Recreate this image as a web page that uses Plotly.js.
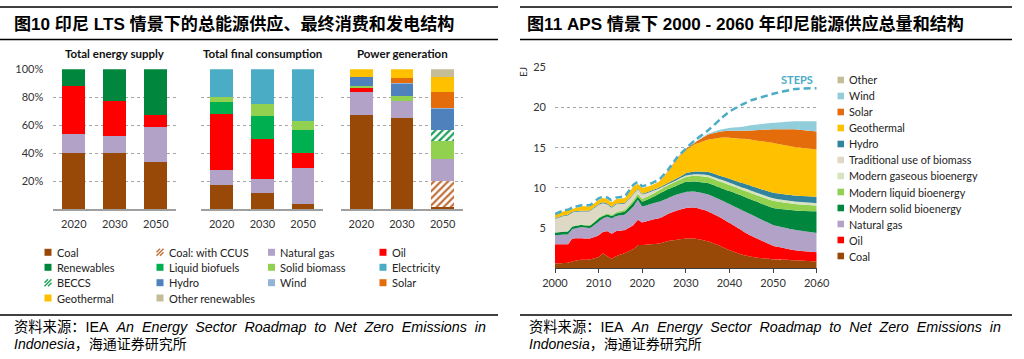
<!DOCTYPE html>
<html><head><meta charset="utf-8">
<script src="https://cdn.plot.ly/plotly-3.0.1.min.js"></script>
<style>html,body{margin:0;padding:0;background:#fff;}#chart{width:1024px;height:359px;}</style>
</head><body><div id="chart"></div>
<script>
// ---------------- DATA: left chart (shares, %) ----------------
const barYears = ['2020', '2030', '2050'];
// Total energy supply
const tesCoal = [40, 40, 33.3];
const tesGas = [13.8, 12, 25.5];
const tesOil = [34.5, 25.4, 8.2];
const tesRenew = [11.7, 22.6, 33];
// Total final consumption
const tfcCoal = [17.1, 11.2, 3.3];
const tfcGas = [10.8, 10.5, 26.2];
const tfcOil = [40, 28.3, 10.3];
const tfcLiquid = [8.5, 16.4, 17.1];
const tfcSolid = [3.8, 8.6, 6];
const tfcElec = [19.8, 25, 37.1];
// Power generation
const pgCoal = [67, 64.8, 1.7];
const pgCoalCcus = [0, 0, 18.5];
const pgGas = [16.4, 12.8, 15.3];
const pgOil = [3.1, 0, 0];
const pgSolid = [1.3, 3.3, 13.3];
const pgBeccs = [0, 0, 8.1];
const pgHydro = [6.4, 8.6, 15];
const pgWind = [0.3, 0.5, 0.7];
const pgSolar = [0, 3.6, 11.4];
const pgGeo = [5.5, 6.4, 10.3];
const pgOther = [0, 0, 5.7];
const panelTitles = ['Total energy supply', 'Total final consumption', 'Power generation'];
const shareTicks = [20, 40, 60, 80, 100];
const shareTickText = ['20%', '40%', '60%', '80%', '100%'];
const leftLegend = ['Coal', 'Coal: with CCUS', 'Natural gas', 'Oil', 'Renewables', 'Liquid biofuels',
  'Solid biomass', 'Electricity', 'BECCS', 'Hydro', 'Wind', 'Solar', 'Geothermal', 'Other renewables'];

// ---------------- DATA: right chart (EJ) ----------------
const apsYears = [2000, 2002, 2003, 2004, 2006, 2008, 2010, 2011, 2012, 2013, 2014, 2016, 2018, 2019, 2020,
  2022, 2024, 2026, 2028, 2030, 2032, 2035, 2038, 2040, 2043, 2045, 2050, 2055, 2060];
const apsCoal = [0.6, 0.65, 0.7, 0.85, 1.05, 1.1, 1.4, 1.85, 1.5, 1.2, 1.5, 1.9, 2.4, 2.9, 2.9,
  3.0, 3.1, 3.4, 3.55, 3.7, 3.7, 3.35, 2.75, 2.25, 1.7, 1.45, 1.1, 1.0, 0.85];
const apsOil = [2.4, 2.35, 2.3, 2.85, 2.7, 2.6, 2.7, 2.65, 3.1, 3.1, 3.1, 2.85, 3.0, 3.1, 2.8,
  3.0, 3.15, 3.4, 3.65, 3.8, 3.85, 3.75, 3.55, 3.4, 2.95, 2.6, 1.7, 1.25, 1.15];
const apsGas = [1.1, 1.2, 1.25, 1.2, 1.35, 1.3, 1.7, 1.7, 1.8, 1.9, 1.9, 1.95, 2.3, 2.5, 2.0,
  2.0, 2.05, 1.95, 2.0, 2.0, 2.0, 2.1, 2.2, 2.35, 2.55, 2.65, 2.6, 2.55, 2.4];
const apsSolidBio = [0.35, 0.35, 0.35, 0.3, 0.3, 0.3, 0.4, 0.3, 0.3, 0.3, 0.3, 0.35, 0.5, 0.4, 0.6,
  0.75, 1.0, 1.1, 1.1, 1.25, 1.25, 1.4, 1.5, 1.6, 1.8, 1.85, 2.1, 2.4, 2.7];
const apsLiquidBio = [0, 0, 0, 0.02, 0.05, 0.08, 0.1, 0.12, 0.15, 0.15, 0.18, 0.22, 0.3, 0.35, 0.35,
  0.4, 0.45, 0.5, 0.55, 0.6, 0.7, 0.75, 0.75, 0.75, 0.75, 0.8, 0.9, 0.8, 0.7];
const apsGasBio = [0, 0, 0, 0, 0, 0, 0, 0, 0, 0, 0, 0, 0, 0, 0.02,
  0.03, 0.05, 0.08, 0.12, 0.18, 0.2, 0.25, 0.28, 0.3, 0.3, 0.3, 0.3, 0.3, 0.3];
const apsTradBio = [1.7, 1.95, 2.0, 1.73, 1.6, 1.72, 1.6, 1.48, 1.1, 0.9, 0.97, 0.78, 0.7, 0.55, 0.53,
  0.35, 0.15, 0.05, 0.02, 0, 0, 0, 0, 0, 0, 0, 0, 0, 0];
const apsHydro = [0.1, 0.1, 0.1, 0.1, 0.1, 0.1, 0.1, 0.1, 0.1, 0.1, 0.1, 0.1, 0.1, 0.1, 0.1,
  0.12, 0.13, 0.15, 0.2, 0.3, 0.35, 0.4, 0.45, 0.5, 0.55, 0.6, 0.7, 0.75, 0.8];
const apsGeo = [0.4, 0.5, 0.5, 0.35, 0.55, 0.5, 0.5, 0.55, 0.55, 0.55, 0.55, 0.6, 0.9, 0.6, 0.7,
  0.65, 0.72, 1.47, 2.41, 2.87, 3.35, 4.0, 4.77, 5.1, 5.5, 5.75, 6.2, 6.05, 5.9];
const apsSolar = [0, 0, 0, 0, 0, 0, 0, 0, 0, 0, 0, 0, 0, 0, 0,
  0, 0.02, 0.05, 0.1, 0.15, 0.2, 0.6, 0.75, 0.85, 1.0, 1.15, 1.7, 2.2, 2.2];
const apsWind = [0, 0, 0, 0, 0, 0, 0, 0, 0, 0, 0, 0, 0, 0, 0,
  0, 0, 0, 0, 0.03, 0.05, 0.1, 0.25, 0.35, 0.5, 0.65, 0.8, 1.0, 1.3];
const apsOther = [0, 0, 0, 0, 0, 0, 0, 0, 0, 0, 0, 0, 0, 0, 0,
  0, 0, 0, 0, 0, 0, 0, 0, 0, 0, 0, 0, 0, 0];
const stepsTotal = [6.75, 7.2, 7.3, 7.55, 7.85, 7.85, 8.7, 8.9, 8.8, 8.45, 8.8, 8.95, 10.4, 10.75, 10.2,
  10.55, 11.1, 12.3, 13.8, 14.9, 15.9, 17.1, 18.6, 19.5, 20.4, 20.9, 21.7, 22.3, 22.4];
const ejTicks = [5, 10, 15, 20, 25];
const yearTicks = [2000, 2010, 2020, 2030, 2040, 2050, 2060];
const rightLegend = ['Other', 'Wind', 'Solar', 'Geothermal', 'Hydro', 'Traditional use of biomass',
  'Modern gaseous bioenergy', 'Modern liquid bioenergy', 'Modern solid bioenergy', 'Natural gas', 'Oil', 'Coal'];

// ---------------- styling ----------------
const C = {
  coal: '#984807', gas: '#b3a2c7', oil: '#ff0000', renew: '#00873d', liquid: '#00b050', solid: '#92d050',
  elec: '#4bacc6', beccs: '#1fa05a', hydro: '#4f81bd', wind: '#95b3d7', solar: '#e46c0a', geo: '#ffc000',
  otherRen: '#c4bd97', ccus: '#c0703a',
  rOther: '#c4bd97', rWind: '#92cddc', rSolar: '#e46c0a', rGeo: '#ffc000', rHydro: '#31849b', rTrad: '#ddd9c4',
  rGasBio: '#d7e4bd', rLiq: '#92d050', rSolid: '#00873d', steps: '#4bacc6'
};
const W = 1024, H = 359;
const px = x => x / W;
const py = y => 1 - y / H;
const FONT = 'Lato, "Open Sans", sans-serif';

const traces = [];
function bar(ax, y, color, pattern) {
  const t = {type: 'bar', x: barYears, y: y, xaxis: 'x' + ax, yaxis: 'y' + ax, showlegend: false,
    hoverinfo: 'skip', marker: {color: color, line: {width: 0}}};
  if (pattern) {
    t.marker.color = '#ffffff';
    t.marker.pattern = {shape: '/', fgcolor: pattern, bgcolor: '#ffffff', size: 5, solidity: 0.45};
  }
  traces.push(t);
}
bar('', tesCoal, C.coal); bar('', tesGas, C.gas); bar('', tesOil, C.oil); bar('', tesRenew, C.renew);
bar('2', tfcCoal, C.coal); bar('2', tfcGas, C.gas); bar('2', tfcOil, C.oil); bar('2', tfcLiquid, C.liquid);
bar('2', tfcSolid, C.solid); bar('2', tfcElec, C.elec);
bar('3', pgCoal, C.coal); bar('3', pgCoalCcus, null, C.ccus); bar('3', pgGas, C.gas); bar('3', pgOil, C.oil);
bar('3', pgSolid, C.solid); bar('3', pgBeccs, null, C.beccs); bar('3', pgHydro, C.hydro); bar('3', pgWind, C.wind);
bar('3', pgSolar, C.solar); bar('3', pgGeo, C.geo); bar('3', pgOther, C.otherRen);

function area(y, color) {
  traces.push({type: 'scatter', mode: 'lines', x: apsYears, y: y, stackgroup: 'aps', xaxis: 'x4', yaxis: 'y4',
    line: {width: 0, shape: 'spline', smoothing: 0.3}, fillcolor: color, showlegend: false, hoverinfo: 'skip'});
}
area(apsCoal, C.coal); area(apsOil, C.oil); area(apsGas, C.gas); area(apsSolidBio, C.rSolid);
area(apsLiquidBio, C.rLiq); area(apsGasBio, C.rGasBio); area(apsTradBio, C.rTrad); area(apsHydro, C.rHydro);
area(apsGeo, C.rGeo); area(apsSolar, C.rSolar); area(apsWind, C.rWind); area(apsOther, C.rOther);
traces.push({type: 'scatter', mode: 'lines', x: apsYears, y: stepsTotal, xaxis: 'x4', yaxis: 'y4',
  line: {color: C.steps, width: 2.5, dash: '7px,4px', shape: 'spline', smoothing: 0.3}, showlegend: false, hoverinfo: 'skip'});

const tickFont = {family: FONT, size: 11, color: '#333'};
function catX(d0, d1, anchor) {
  return {domain: [px(d0), px(d1)], anchor: anchor, type: 'category', range: [-0.5, 2.5], showgrid: false,
    showline: true, linecolor: '#a0a0a0', linewidth: 1.5, ticks: '', tickfont: tickFont, ticklabelstandoff: 4};
}
function shareY(anchor, showLabels) {
  return {domain: [py(209), py(69.3)], anchor: anchor, range: [0, 100], tickmode: 'array', tickvals: shareTicks,
    ticktext: shareTickText, showticklabels: showLabels, showgrid: true, gridcolor: '#a6a6a6', griddash: 'dot',
    gridwidth: 1, zeroline: false, showline: false, tickfont: tickFont, ticklabelstandoff: 9};
}

const annotations = [], shapes = [];
function txt(x, y, text, opts) {
  annotations.push(Object.assign({xref: 'paper', yref: 'paper', x: px(x), y: py(y), text: text, showarrow: false,
    xanchor: 'left', yanchor: 'middle', font: {family: FONT, size: 11, color: '#222'}}, opts || {}));
}
function rect(x0, y0, x1, y1, color) {
  shapes.push({type: 'rect', xref: 'paper', yref: 'paper', x0: px(x0), x1: px(x1), y0: py(y1), y1: py(y0),
    fillcolor: color, line: {width: 0}});
}
function hline(x0, x1, y, w) {
  shapes.push({type: 'line', xref: 'paper', yref: 'paper', x0: px(x0), x1: px(x1), y0: py(y), y1: py(y),
    line: {color: '#000', width: w}});
}
function hatchSq(x0, y0, s, color) {
  const segs = [[x0, y0 + s, x0 + s, y0], [x0, y0 + s / 2, x0 + s / 2, y0], [x0 + s / 2, y0 + s, x0 + s, y0 + s / 2]];
  segs.forEach(g => shapes.push({type: 'line', xref: 'paper', yref: 'paper', x0: px(g[0]), y0: py(g[1]),
    x1: px(g[2]), y1: py(g[3]), line: {color: color, width: 1.4}}));
}

// titles & rules
const TFONT = '"Liberation Sans", Arial, "Noto Sans CJK SC", sans-serif';
txt(12, 23.5, '<b>图10 印尼 LTS 情景下的总能源供应、最终消费和发电结构</b>', {font: {family: TFONT, size: 17.1, color: '#000'}});
txt(525, 23.5, '<b>图11 APS 情景下 2000 - 2060 年印尼能源供应总量和结构</b>', {font: {family: TFONT, size: 17.1, color: '#000'}});
hline(0, 498, 7, 1.5); hline(0, 498, 39.5, 1.5);
hline(520, 1012, 7, 1.5); hline(520, 1012, 39.5, 1.5);
hline(0, 498, 315, 1.5); hline(520, 1012, 315, 1.5);
const FFONT = '"Liberation Sans Narrow", "Liberation Sans", "Noto Sans CJK SC", sans-serif';
const sp = '&nbsp; ';
[12, 527].forEach(x0 => {
  txt(x0, 327, '资料来源：IEA' + sp + '<i>An' + sp + 'Energy' + sp + 'Sector' + sp + 'Roadmap' + sp + 'to' + sp +
    'Net' + sp + 'Zero' + sp + 'Emissions' + sp + 'in</i>', {font: {family: FFONT, size: 14.3, color: '#000'}});
  txt(x0, 344, '<i>Indonesia</i>，海通证券研究所', {font: {family: FFONT, size: 14, color: '#000'}});
});

// panel titles
const panelCenters = [114.8, 262.4, 402];
panelTitles.forEach((t, i) => txt(panelCenters[i], 53, '<b>' + t + '</b>', {xanchor: 'center', font: {family: FONT, size: 11.5, color: '#111'}}));

// left legend (4 columns)
const legColors = [C.coal, null, C.gas, C.oil, C.renew, C.liquid, C.solid, C.elec, null, C.hydro, C.wind, C.solar, C.geo, C.otherRen];
const legHatch = {1: C.ccus, 8: C.beccs};
const colX = [44.5, 156.5, 268, 379.5], rowY = [252.3, 267.3, 282.7, 298];
leftLegend.forEach((name, i) => {
  const cx = colX[i % 4], cy = rowY[Math.floor(i / 4)];
  if (legHatch[i]) hatchSq(cx, cy - 3.5, 7, legHatch[i]); else rect(cx, cy - 3.5, cx + 7, cy + 3.5, legColors[i]);
  txt(cx + 10, cy, name);
});

// right legend
const rLegColors = [C.rOther, C.rWind, C.rSolar, C.rGeo, C.rHydro, C.rTrad, C.rGasBio, C.rLiq, C.rSolid, C.gas, C.oil, C.coal];
rightLegend.forEach((name, i) => {
  const cy = 80 + 16 * i;
  rect(837.5, cy - 3.3, 844, cy + 3.3, rLegColors[i]);
  txt(847, cy, name, {font: {family: FONT, size: 10.8, color: '#222'}});
});
txt(523, 72, 'EJ', {xanchor: 'center', textangle: -90, font: {family: FONT, size: 10, color: '#333'}});
txt(797, 79, '<b>STEPS</b>', {xanchor: 'center', font: {family: FONT, size: 11, color: C.steps}});

const layout = {
  width: W, height: H, margin: {l: 0, r: 0, t: 0, b: 0}, paper_bgcolor: '#fff', plot_bgcolor: 'rgba(0,0,0,0)',
  barmode: 'stack', bargap: 0.44, showlegend: false, font: {family: FONT, size: 11, color: '#333'},
  xaxis: catX(53.3, 176.3, 'y'), yaxis: shareY('x', true),
  xaxis2: catX(201.4, 323.4, 'y2'), yaxis2: shareY('x2', false),
  xaxis3: catX(341, 463, 'y3'), yaxis3: shareY('x3', false),
  xaxis4: {domain: [px(555), px(816.7)], anchor: 'y4', range: [2000, 2060], tickmode: 'array', tickvals: yearTicks,
    showgrid: false, showline: true, linecolor: '#404040', linewidth: 1, ticks: 'outside', ticklen: 4,
    tickcolor: '#404040', tickfont: tickFont, zeroline: false},
  yaxis4: {domain: [py(268.3), py(67.3)], anchor: 'x4', range: [0, 25], tickmode: 'array', tickvals: ejTicks,
    showgrid: true, gridcolor: '#a6a6a6', griddash: 'dot', gridwidth: 1, zeroline: false, showline: false,
    tickfont: tickFont, ticklabelstandoff: 8},
  annotations: annotations, shapes: shapes
};
Plotly.newPlot('chart', traces, layout, {displayModeBar: false, staticPlot: true});
</script></body></html>
